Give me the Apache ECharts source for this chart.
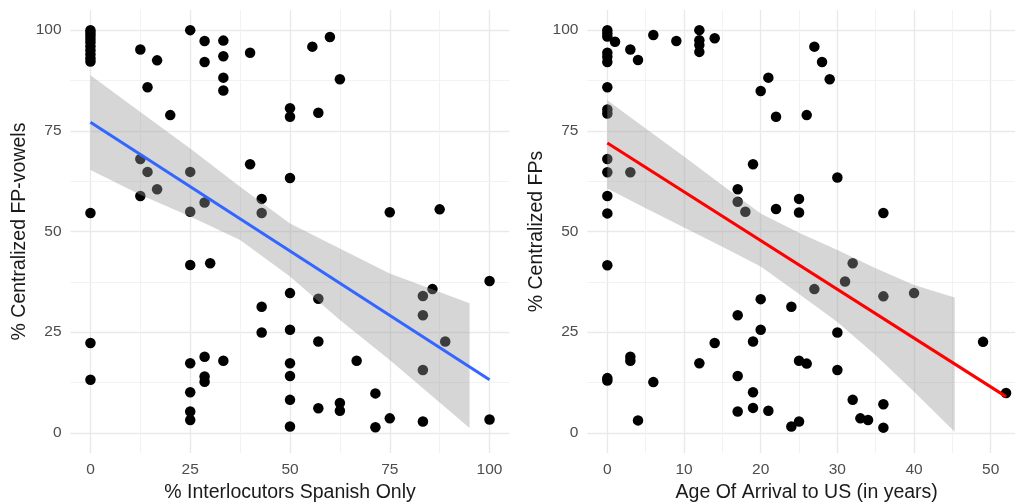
<!DOCTYPE html>
<html><head><meta charset="utf-8">
<script src="https://cdn.jsdelivr.net/npm/echarts@6/dist/echarts.min.js"></script>
<style>html,body{margin:0;padding:0;background:#fff}#c{width:1015px;height:502px}</style>
</head><body><div id="c"></div>
<script>
// ---------- Left panel: % Interlocutors Spanish Only ----------
const leftX = [0,0,0,0,0,0,0,0,0,0,0,0,0,
  12.5,12.5,12.5, 14.3,14.3, 16.7,16.7, 20,
  25,25,25,25,25,25,25,25,
  28.6,28.6,28.6,28.6,28.6,28.6, 30,
  33.3,33.3,33.3,33.3,33.3, 40,40,
  42.9,42.9,42.9,42.9,
  50,50,50,50,50,50,50,50,50,
  55.6, 57.1,57.1,57.1,57.1, 60, 62.5,62.5,62.5, 66.7, 71.4,71.4, 75,75,
  83.3,83.3,83.3,83.3, 85.7, 87.5, 88.9, 100,100];
const leftY = [100,99.3,98.6,97.8,97,96,95,94,93,92.2,54.6,22.3,13.2,
  95.2,68,58.8, 85.8,64.8, 92.5,60.5, 78.9,
  100,64.8,54.9,41.7,17.3,10.1,5.3,3.2,
  97.3,92.1,57.2,18.9,14,12.7, 42.1,
  97.4,93.5,88.2,85,17.9, 94.4,66.7,
  58.1,54.6,31.3,24.9,
  80.6,78.5,63.3,34.7,25.6,17.3,14.1,8.2,1.6,
  95.9, 79.5,33.3,22.7,6.1, 98.3, 87.8,7.4,5.5, 17.9, 9.8,1.4, 54.8,3.6,
  34,29.2,15.6,2.8, 35.7, 55.5, 22.7, 37.7,3.3];
const leftFitX = [0, 100];
const leftFitY = [77.1, 13.2];
const leftBandX  = [0, 12.5, 25, 37.5, 50, 62.5, 75, 95];
const leftBandUp = [88.8, 79.7, 70.6, 61.1, 52.0, 45.8, 39.6, 32.2];
const leftBandLo = [65.3, 59.1, 53.7, 47.9, 38.8, 28.0, 18.1, 1.2];
const leftXTicks = [0, 25, 50, 75, 100];
const leftXMinor = [12.5, 37.5, 62.5, 87.5];

// ---------- Right panel: Age Of Arrival to US ----------
const rightX = [0,0,0,0,0,0,0,0,0,0,0,0,0,0,0,0,
  1, 3,3,3,3, 4,4, 6,6, 9, 12,12,12,12,12, 14,14,
  17,17,17,17,17, 18, 19,19,19,19, 20,20,20, 21,21, 22,22, 24,24,
  25,25,25,25, 26,26, 27,27, 28, 29, 30,30,30, 31, 32,32, 33, 34,
  36,36,36,36, 40, 49, 52];
const rightY = [100,99.2,98.4,94.4,93.4,92.1,85.8,80.3,79.3,68,64.7,58.8,54.5,41.6,13.6,13,
  97.1, 95.2,64.7,18.9,17.9, 92.6,3.1, 98.8,12.6, 97.3, 100,97.5,96.3,94.6,17.3, 98,22.3,
  60.5,57.4,29.2,14.1,5.3, 54.9, 66.7,22.7,10.1,6.2, 84.9,33.2,25.6, 88.2,5.5, 78.5,55.6, 31.3,1.6,
  58.1,54.7,17.9,2.8, 78.9,17.2, 95.9,35.7, 92.1, 87.8, 63.4,24.9,15.6, 37.6, 42.1,8.2, 3.6, 3.2,
  54.6,33.9,7.1,1.3, 34.7, 22.6, 9.9];
const rightFitX = [0, 52];
const rightFitY = [72.0, 9.0];
const rightBandX  = [0, 5, 10, 15, 20, 25, 30, 35, 40, 45.3];
const rightBandUp = [82.6, 75.6, 68.6, 61.5, 54.5, 49.7, 45.4, 40.9, 36.7, 33.6];
const rightBandLo = [60.7, 55.8, 51.0, 46.2, 41.3, 34.5, 27.5, 19.3, 10.2, 0.3];
const rightXTicks = [0, 10, 20, 30, 40, 50];
const rightXMinor = [5, 15, 25, 35, 45];

const yTicks = [0, 25, 50, 75, 100];
const yMinor = [12.5, 37.5, 62.5, 87.5];

const FONT = '"Liberation Sans", Arial, sans-serif';
const MAJOR = '#e9e9e9', MINOR = '#f1f1f1';

function zip(a, b) { return a.map((v, i) => [v, b[i]]); }

function xAxis(gi, min, max, ticks, name) {
  return {
    type: 'value', gridIndex: gi, min, max,
    axisLine: {show: false},
    axisTick: {show: false, customValues: ticks},
    axisLabel: {customValues: ticks, color: '#4d4d4d', fontSize: 15.5, fontFamily: FONT, margin: 9},
    splitLine: {show: true, lineStyle: {color: MAJOR, width: 1.4}},
    name, nameLocation: 'middle', nameGap: 28,
    nameTextStyle: {color: '#1a1a1a', fontSize: 19.5, fontFamily: FONT}
  };
}
function yAxis(gi, name) {
  return {
    type: 'value', gridIndex: gi, min: -5, max: 105,
    axisLine: {show: false},
    axisTick: {show: false, customValues: yTicks},
    axisLabel: {customValues: yTicks, color: '#4d4d4d', fontSize: 15.5, fontFamily: FONT, margin: 9},
    splitLine: {show: true, lineStyle: {color: MAJOR, width: 1.4}},
    name, nameLocation: 'middle', nameGap: 41,
    nameTextStyle: {color: '#1a1a1a', fontSize: 19.5, fontFamily: FONT}
  };
}
function minorGrid(gi, xMinor) {
  return {
    type: 'scatter', xAxisIndex: gi, yAxisIndex: gi, data: [], z: 0, silent: true,
    markLine: {
      z: 0, zlevel: 0,
      silent: true, symbol: 'none', animation: false, label: {show: false},
      lineStyle: {color: MINOR, width: 0.9, type: 'solid'},
      data: xMinor.map(v => ({xAxis: v})).concat(yMinor.map(v => ({yAxis: v})))
    }
  };
}
function points(gi, xs, ys) {
  return {type: 'scatter', xAxisIndex: gi, yAxisIndex: gi, data: zip(xs, ys),
    symbol: 'circle', symbolSize: 10.5, itemStyle: {color: '#000', opacity: 1}, z: 2, silent: true};
}
function band(gi, xs, up, lo) {
  const rows = xs.map((x, i) => [x, up[i], lo[i]]);
  return {
    type: 'custom', xAxisIndex: gi, yAxisIndex: gi, data: rows, z: 3, silent: true,
    encode: {x: 0, y: [1, 2]},
    renderItem: function (params, api) {
      if (params.dataIndex !== 0) return null;
      const pts = [];
      for (let i = 0; i < rows.length; i++) pts.push(api.coord([rows[i][0], rows[i][1]]));
      for (let i = rows.length - 1; i >= 0; i--) pts.push(api.coord([rows[i][0], rows[i][2]]));
      return {type: 'polygon', shape: {points: pts}, style: {fill: 'rgba(153,153,153,0.4)'}};
    }
  };
}
function fit(gi, xs, ys, color) {
  return {type: 'line', xAxisIndex: gi, yAxisIndex: gi, data: zip(xs, ys), showSymbol: false,
    lineStyle: {color, width: 3}, z: 4, silent: true};
}

const chart = echarts.init(document.getElementById('c'), null, {renderer: 'canvas'});
chart.setOption({
  animation: false,
  backgroundColor: '#fff',
  grid: [
    {left: 70.5, top: 10, width: 439, height: 443, outerBoundsMode: 'none'},
    {left: 587.4, top: 10, width: 438.6, height: 443, outerBoundsMode: 'none'}
  ],
  xAxis: [
    xAxis(0, -5, 105, leftXTicks, '% Interlocutors Spanish Only'),
    xAxis(1, -2.6, 54.6, rightXTicks, 'Age Of Arrival to US (in years)')
  ],
  yAxis: [
    yAxis(0, '% Centralized FP-vowels'),
    yAxis(1, '% Centralized FPs')
  ],
  series: [
    minorGrid(0, leftXMinor), minorGrid(1, rightXMinor),
    points(0, leftX, leftY), points(1, rightX, rightY),
    band(0, leftBandX, leftBandUp, leftBandLo), band(1, rightBandX, rightBandUp, rightBandLo),
    fit(0, leftFitX, leftFitY, '#3366FF'), fit(1, rightFitX, rightFitY, '#FF0000')
  ]
});
</script>
</body></html>
